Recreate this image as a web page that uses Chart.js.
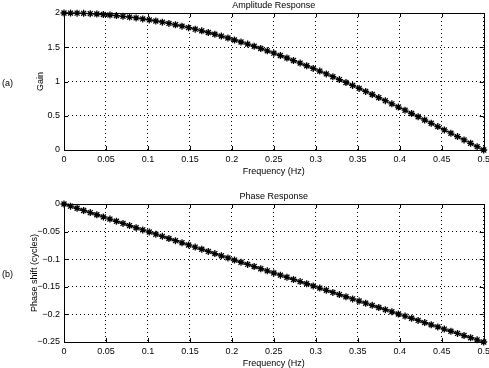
<!DOCTYPE html>
<html lang="en">
  <head>
    <meta charset="utf-8" />
    <title>Amplitude and Phase Response</title>
    <style>
      body { margin: 0; background: #fff; }
      .panel { position: absolute; left: 0; width: 489px; height: 184px; }
    </style>
  </head>
  <body>
    <div class="panel" style="top: 0"><canvas id="amp" width="489" height="184"></canvas></div>
    <div class="panel" style="top: 184px"><canvas id="phase" width="489" height="184"></canvas></div>

    <script src="https://cdn.jsdelivr.net/npm/chart.js@4.4.0/dist/chart.umd.min.js"></script>
    <script>
      // frequency points (Hz)
      const freq = [
        0, 0.0078, 0.0156, 0.0234, 0.0313, 0.0391, 0.0469, 0.0547, 0.0625, 0.0703, 0.0781, 0.0859, 0.0938,
        0.1016, 0.1094, 0.1172, 0.125, 0.1328, 0.1406, 0.1484, 0.1563, 0.1641, 0.1719, 0.1797, 0.1875, 0.1953,
        0.2031, 0.2109, 0.2188, 0.2266, 0.2344, 0.2422, 0.25, 0.2578, 0.2656, 0.2734, 0.2813, 0.2891, 0.2969,
        0.3047, 0.3125, 0.3203, 0.3281, 0.3359, 0.3438, 0.3516, 0.3594, 0.3672, 0.375, 0.3828, 0.3906, 0.3984,
        0.4063, 0.4141, 0.4219, 0.4297, 0.4375, 0.4453, 0.4531, 0.4609, 0.4688, 0.4766, 0.4844, 0.4922, 0.5
      ];
      // (a) amplitude response
      const gain = [
        2.0, 1.999, 1.998, 1.995, 1.99, 1.985, 1.978, 1.971, 1.962, 1.951, 1.94, 1.928, 1.914,
        1.899, 1.883, 1.866, 1.848, 1.828, 1.808, 1.786, 1.764, 1.74, 1.715, 1.69, 1.663, 1.635,
        1.606, 1.577, 1.546, 1.514, 1.482, 1.448, 1.414, 1.379, 1.343, 1.306, 1.269, 1.23, 1.191,
        1.152, 1.111, 1.07, 1.028, 0.986, 0.943, 0.899, 0.855, 0.81, 0.765, 0.72, 0.674, 0.627,
        0.581, 0.533, 0.486, 0.438, 0.39, 0.342, 0.293, 0.245, 0.196, 0.147, 0.098, 0.049, 0
      ];
      // (b) phase response, cycles
      const phase = [
        0, -0.0039, -0.0078, -0.0117, -0.0156, -0.0195, -0.0234, -0.0273, -0.0313, -0.0352, -0.0391, -0.043, -0.0469,
        -0.0508, -0.0547, -0.0586, -0.0625, -0.0664, -0.0703, -0.0742, -0.0781, -0.082, -0.0859, -0.0898, -0.0938, -0.0977,
        -0.1016, -0.1055, -0.1094, -0.1133, -0.1172, -0.1211, -0.125, -0.1289, -0.1328, -0.1367, -0.1406, -0.1445, -0.1484,
        -0.1523, -0.1563, -0.1602, -0.1641, -0.168, -0.1719, -0.1758, -0.1797, -0.1836, -0.1875, -0.1914, -0.1953, -0.1992,
        -0.2031, -0.207, -0.2109, -0.2148, -0.2188, -0.2227, -0.2266, -0.2305, -0.2344, -0.2383, -0.2422, -0.2461, -0.25
      ];
      const freqTicks = [0, 0.05, 0.1, 0.15, 0.2, 0.25, 0.3, 0.35, 0.4, 0.45, 0.5];
      const gainTicks = [0, 0.5, 1, 1.5, 2];
      const phaseTicks = [-0.25, -0.2, -0.15, -0.1, -0.05, 0];

      const FONT = '"Liberation Sans", Arial, Helvetica, sans-serif';

      // box, inward ticks and all the text around the axes
      const decor = {
        id: "decor",
        afterDraw(chart, args, o) {
          const { ctx, chartArea: a, scales } = chart;
          const midX = (a.left + a.right) / 2;
          const midY = (a.top + a.bottom) / 2;
          ctx.save();
          ctx.strokeStyle = "#000";
          ctx.lineWidth = 1;
          ctx.strokeRect(Math.round(a.left) + 0.5, Math.round(a.top) + 0.5, Math.round(a.right - a.left), Math.round(a.bottom - a.top));
          ctx.beginPath();
          freqTicks.forEach((v) => {
            const px = Math.round(scales.x.getPixelForValue(v)) + 0.5;
            ctx.moveTo(px, a.bottom); ctx.lineTo(px, a.bottom - 4);
            ctx.moveTo(px, a.top); ctx.lineTo(px, a.top + 4);
          });
          o.yTicks.forEach((v) => {
            const py = Math.round(scales.y.getPixelForValue(v)) + 0.5;
            ctx.moveTo(a.left, py); ctx.lineTo(a.left + 4, py);
            ctx.moveTo(a.right, py); ctx.lineTo(a.right - 4, py);
          });
          ctx.stroke();

          ctx.fillStyle = "#000";
          ctx.font = "9px " + FONT;
          ctx.textAlign = "center";
          ctx.textBaseline = "bottom";
          ctx.fillText(o.title, midX, a.top - 3);
          ctx.textBaseline = "top";
          ctx.fillText("Frequency (Hz)", midX, a.bottom + 17);
          ctx.textAlign = "left";
          ctx.textBaseline = "middle";
          ctx.fillText(o.tag, 2, midY + 2);
          ctx.translate(o.yTitleX, midY);
          ctx.rotate(-Math.PI / 2);
          ctx.textAlign = "center";
          ctx.fillText(o.yTitle, 0, 0);
          ctx.restore();
        },
      };

      function fmt(v) {
        const s = String(Math.round(v * 100) / 100);
        return s.replace("-", "\u2212");
      }

      function makeChart(id, yData, yTicks, yMin, yMax, pad, xHeight, labelOpts) {
        const ctx = document.getElementById(id).getContext("2d");
        return new Chart(ctx, {
          type: "line",
          data: {
            datasets: [
              {
                data: freq.map((f, i) => ({ x: f, y: yData[i] })),
                borderColor: "#000",
                borderWidth: 1,
                pointStyle: "star",
                pointRadius: 3.5,
                pointBorderColor: "#000",
                pointBorderWidth: 1.3,
                pointBackgroundColor: "#000",
                tension: 0,
                clip: false,
              },
            ],
          },
          options: {
            responsive: false,
            animation: false,
            events: [],
            layout: { padding: { left: 0, right: 5, top: pad, bottom: 0 } },
            plugins: {
              legend: { display: false },
              tooltip: { enabled: false },
              decor: labelOpts,
            },
            scales: {
              x: {
                type: "linear",
                min: 0,
                max: 0.5,
                afterBuildTicks: (s) => { s.ticks = freqTicks.map((v) => ({ value: v })); },
                afterFit: (s) => { s.height = xHeight; s.paddingLeft = 0; s.paddingRight = 0; },
                ticks: { color: "#000", font: { family: FONT, size: 9 }, padding: 4, maxRotation: 0, callback: (v) => fmt(v) },
                grid: { color: "#000", lineWidth: 1, drawTicks: false },
                border: { display: false, dash: [1, 3] },
              },
              y: {
                type: "linear",
                min: yMin,
                max: yMax,
                afterBuildTicks: (s) => { s.ticks = yTicks.map((v) => ({ value: v })); },
                afterFit: (s) => { s.width = 64; s.paddingTop = 0; s.paddingBottom = 0; },
                ticks: { color: "#000", font: { family: FONT, size: 9 }, padding: 4, callback: (v) => fmt(v) },
                grid: { color: "#000", lineWidth: 1, drawTicks: false },
                border: { display: false, dash: [1, 3] },
              },
            },
          },
          plugins: [decor],
        });
      }

      makeChart("amp", gain, gainTicks, 0, 2, 13, 34, {
        title: "Amplitude Response", tag: "(a)", yTitle: "Gain", yTitleX: 41, yTicks: gainTicks,
      });
      makeChart("phase", phase, phaseTicks, -0.25, 0, 20, 26, {
        title: "Phase Response", tag: "(b)", yTitle: "Phase shift (cycles)", yTitleX: 35, yTicks: phaseTicks,
      });
    </script>
  </body>
</html>
